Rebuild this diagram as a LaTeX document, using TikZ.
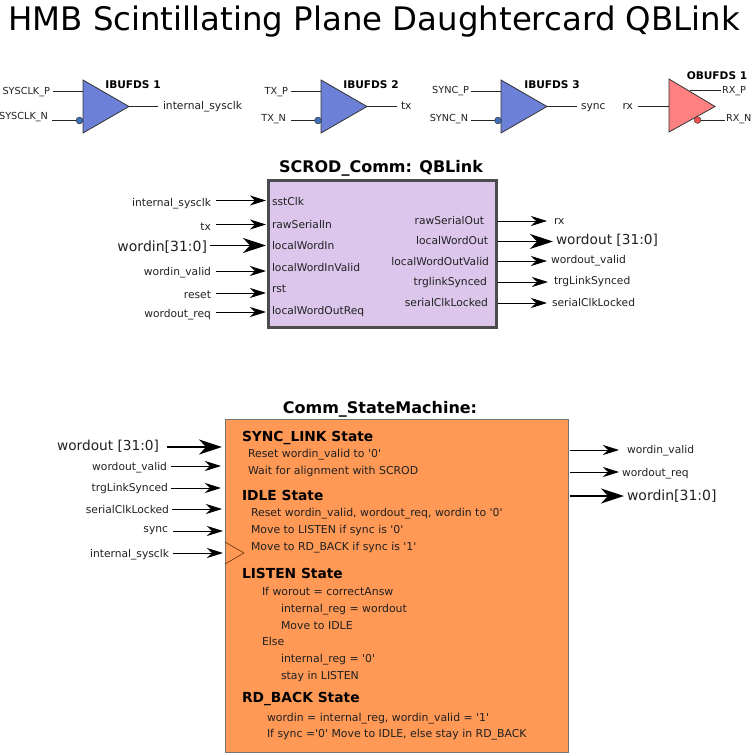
\documentclass[tikz,border=0pt]{standalone}
\usepackage{fontspec}
\defaultfontfeatures[\rmfamily]{}
\setmainfont{DejaVu Sans}
\usetikzlibrary{arrows.meta}
\definecolor{ibuf}{HTML}{6C80D8}
\definecolor{obuf}{HTML}{FF8080}
\definecolor{bubblue}{HTML}{3F70B8}
\definecolor{bubred}{HTML}{F05050}
\definecolor{qbfill}{HTML}{DCC6EC}
\definecolor{smfill}{HTML}{FF9955}
\definecolor{txt}{HTML}{202020}
\tikzset{
  x=1pt,y=-1pt,
  every node/.style={inner sep=0pt,outer sep=0pt,text=txt},
  pin/.style={font=\fontsize{9.7}{11}\selectfont,text height=9pt,text depth=2.5pt},
  sm/.style={font=\fontsize{10.7}{12}\selectfont,text height=10.5pt,text depth=2.5pt},
  body/.style={font=\fontsize{10.9}{12}\selectfont,text height=10.5pt,text depth=2.5pt},
  big/.style={font=\fontsize{14}{16}\selectfont,text height=13pt,text depth=3pt},
  wordbus/.style={font=\fontsize{13.7}{16}\selectfont,text height=13pt,text depth=3pt},
  head/.style={font=\fontsize{16}{18}\selectfont\bfseries,text=black},
  state/.style={font=\fontsize{13.8}{16}\selectfont\bfseries,text=black,text height=13.5pt,text depth=3pt},
  tag/.style={font=\fontsize{10.6}{12}\selectfont\bfseries,text=black},
  gate/.style={draw=black!80,line width=.8pt,line join=miter},
  wire/.style={draw=black!85,line width=.8pt},
  arr/.style={draw=black,line width=.9pt,-{Stealth[length=16pt,width=10pt,inset=5pt]}},
  thickarr/.style={draw=black,line width=1.4pt,-{Stealth[length=23pt,width=15pt,inset=7pt]}},
  rt/.style={anchor=east},
  lf/.style={anchor=west},
}
\begin{document}
\begin{tikzpicture}
\useasboundingbox (0,0) rectangle (751,754);
\node[font=\fontsize{32.4}{36}\selectfont,text=black] (title) at (374,22) {HMB Scintillating Plane Daughtercard QBLink};

% IBUFDS 1
\draw[gate,fill=ibuf] (83,80) -- (129,106.5) -- (83,133) -- cycle;
\node[pin,rt] (s1p) at (50,91) {SYSCLK\_P};
\node[pin,rt] (s1n) at (48,116) {SYSCLK\_N};
\node[sm,lf] (s1o) at (163,106) {internal\_sysclk};
\node[tag] (t1) at (133,85) {IBUFDS 1};
\coordinate (a1) at (53,91); \coordinate (a2) at (83,91);
\coordinate (a3) at (52,120.5); \coordinate (a4) at (79.5,120.5);
\coordinate (a5) at (129,106.5); \coordinate (a6) at (158,106.5);
\draw[wire] (a1)--(a2); \draw[wire] (a3)--(a4); \draw[wire] (a5)--(a6);
\draw[black!80,fill=bubblue,line width=.5pt] (a4) circle (3.4);

% IBUFDS 2
\draw[gate,fill=ibuf] (321,80) -- (367,106.5) -- (321,133) -- cycle;
\node[pin,rt] (s2p) at (288,91) {TX\_P};
\node[pin,rt] (s2n) at (286,118) {TX\_N};
\node[sm,lf] (s2o) at (401,106) {tx};
\node[tag] (t2) at (371,85) {IBUFDS 2};
\coordinate (b1) at (291,91); \coordinate (b2) at (321,91);
\coordinate (b3) at (291,120.5); \coordinate (b4) at (318,120.5);
\coordinate (b5) at (367,106.5); \coordinate (b6) at (397,106.5);
\draw[wire] (b1)--(b2); \draw[wire] (b3)--(b4); \draw[wire] (b5)--(b6);
\draw[black!80,fill=bubblue,line width=.5pt] (b4) circle (3.4);

% IBUFDS 3
\draw[gate,fill=ibuf] (501,80) -- (547,106.5) -- (501,133) -- cycle;
\node[pin,rt] (s3p) at (469,90) {SYNC\_P};
\node[pin,rt] (s3n) at (468,118) {SYNC\_N};
\node[sm,lf] (s3o) at (581,106) {sync};
\node[tag] (t3) at (552,85) {IBUFDS 3};
\coordinate (c1) at (471,91); \coordinate (c2) at (501,91);
\coordinate (c3) at (471,120.5); \coordinate (c4) at (498,120.5);
\coordinate (c5) at (547,106.5); \coordinate (c6) at (577,106.5);
\draw[wire] (c1)--(c2); \draw[wire] (c3)--(c4); \draw[wire] (c5)--(c6);
\draw[black!80,fill=bubblue,line width=.5pt] (c4) circle (3.4);

% OBUFDS 1
\draw[gate,fill=obuf] (669,79) -- (715,106.5) -- (669,132) -- cycle;
\node[sm,rt] (o1i) at (633,106) {rx};
\node[pin,lf] (o1p) at (722,90) {RX\_P};
\node[pin,lf] (o1n) at (726,118) {RX\_N};
\node[tag] (t4) at (717,75.5) {OBUFDS 1};
\coordinate (d1) at (638,106); \coordinate (d2) at (669,106);
\coordinate (d3) at (690,90.5); \coordinate (d4) at (721,90.5);
\coordinate (d5) at (697.5,120); \coordinate (d6) at (725,120);
\draw[wire] (d1)--(d2); \draw[wire] (d3)--(d4); \draw[wire] (d5)--(d6);
\draw[black!80,fill=bubred,line width=.5pt] (d5) circle (3.4);

% SCROD_Comm
\node[draw=black!70,line width=2.2pt,fill=qbfill,minimum width=228pt,minimum height=147pt,anchor=north west] (qb) at (268.5,180.5) {};
\node[head] (qbt) at (381,168) {SCROD\_Comm: QBLink};

\foreach \n/\y/\t in {p1/201/sstClk,p2/224/rawSerialIn,p3/245/localWordIn,p4/267/localWordInValid,p5/288/rst,p6/310/localWordOutReq}
  \node[sm,lf] (\n) at (272,\y) {\t};
\node[sm,rt] (q1) at (484,220) {rawSerialOut};
\node[sm,rt] (q2) at (488,240) {localWordOut};
\node[sm,rt] (q3) at (489,261) {localWordOutValid};
\node[sm,rt] (q4) at (487,281) {trglinkSynced};
\node[sm,rt] (q5) at (488,302) {serialClkLocked};

\foreach \n/\y/\t in {l1/202/internal\_sysclk,l2/226/tx,l4/271/wordin\_valid,l5/294/reset,l6/313/wordout\_req}
  \node[sm,rt] (\n) at (211,\y) {\t};
\node[big,rt] (l3) at (207,246) {wordin[31:0]};

\coordinate (e1) at (216,200.5); \coordinate (f1) at (266,200.5);
\coordinate (e2) at (216,224.5); \coordinate (f2) at (266,224.5);
\coordinate (e3) at (210,245.5); \coordinate (f3) at (266,245.5);
\coordinate (e4) at (216,271); \coordinate (f4) at (266,271);
\coordinate (e5) at (216,293); \coordinate (f5) at (266,293);
\coordinate (e6) at (216,312); \coordinate (f6) at (266,312);
\draw[arr] (e1)--(f1); \draw[arr] (e2)--(f2); \draw[thickarr] (e3)--(f3);
\draw[arr] (e4)--(f4); \draw[arr] (e5)--(f5); \draw[arr] (e6)--(f6);

\coordinate (g1) at (498,221); \coordinate (h1) at (547,221);
\coordinate (g2) at (498,241.5); \coordinate (h2) at (553,241.5);
\coordinate (g3) at (498,261); \coordinate (h3) at (547,261);
\coordinate (g4) at (498,282); \coordinate (h4) at (548,282);
\coordinate (g5) at (498,303); \coordinate (h5) at (547,303);
\draw[arr] (g1)--(h1); \draw[thickarr] (g2)--(h2); \draw[arr] (g3)--(h3);
\draw[arr] (g4)--(h4); \draw[arr] (g5)--(h5);

\node[sm,lf] (r1) at (554,220) {rx};
\node[wordbus,lf] (r2) at (556,239) {wordout [31:0]};
\node[sm,lf] (r3) at (551,259) {wordout\_valid};
\node[sm,lf] (r4) at (554,280) {trgLinkSynced};
\node[sm,lf] (r5) at (552,302) {serialClkLocked};

% Comm_StateMachine
\node[draw=black!55,line width=1pt,fill=smfill,minimum width=343pt,minimum height=333pt,anchor=north west] (sm) at (225,419) {};
\node[head] (smt) at (380,409) {Comm\_StateMachine:};
\draw[draw=black!70!orange,line width=.5pt] (225,542) -- (244,553) -- (225,564);

\node[wordbus,rt] (u1) at (159,445) {wordout [31:0]};
\node[sm,rt] (u2) at (167,466) {wordout\_valid};
\node[sm,rt] (u3) at (168,487) {trgLinkSynced};
\node[sm,rt] (u4) at (169,509) {serialClkLocked};
\node[sm,rt] (u5) at (168,528) {sync};
\node[sm,rt] (u6) at (169,553) {internal\_sysclk};

\coordinate (v1) at (167,447); \coordinate (w1) at (222,447);
\coordinate (v2) at (171,466); \coordinate (w2) at (221,466);
\coordinate (v3) at (171,488); \coordinate (w3) at (221,488);
\coordinate (v4) at (172,509); \coordinate (w4) at (222,509);
\coordinate (v5) at (173,531); \coordinate (w5) at (223,531);
\coordinate (v6) at (173,553); \coordinate (w6) at (223,553);
\draw[thickarr] (v1)--(w1); \draw[arr] (v2)--(w2); \draw[arr] (v3)--(w3);
\draw[arr] (v4)--(w4); \draw[arr] (v5)--(w5); \draw[arr] (v6)--(w6);

\coordinate (x1) at (570,450); \coordinate (y1) at (619,450);
\coordinate (x2) at (570,472); \coordinate (y2) at (619,472);
\coordinate (x3) at (570,496); \coordinate (y3) at (624,496);
\draw[arr] (x1)--(y1); \draw[arr] (x2)--(y2); \draw[thickarr] (x3)--(y3);
\node[sm,lf] (z1) at (627,449) {wordin\_valid};
\node[sm,lf] (z2) at (622,472) {wordout\_req};
\node[big,lf] (z3) at (627,495) {wordin[31:0]};

\node[state,lf] (h1t) at (242,436) {SYNC\_LINK State};
\node[body,lf] (h1a) at (248,453) {Reset wordin\_valid to '0'};
\node[body,lf] (h1b) at (248,470) {Wait for alignment with SCROD};
\node[state,lf] (h2t) at (242,495) {IDLE State};
\node[body,lf] (h2a) at (251,512) {Reset wordin\_valid, wordout\_req, wordin to '0'};
\node[body,lf] (h2b) at (251,529) {Move to LISTEN if sync is '0'};
\node[body,lf] (h2c) at (251,546) {Move to RD\_BACK if sync is '1'};
\node[state,lf] (h3t) at (242,573.5) {LISTEN State};
\node[body,lf] (h3a) at (262,591) {If worout = correctAnsw};
\node[body,lf] (h3b) at (281,608) {internal\_reg = wordout};
\node[body,lf] (h3c) at (281,625) {Move to IDLE};
\node[body,lf] (h3d) at (262,641.5) {Else};
\node[body,lf] (h3e) at (281,658) {internal\_reg = '0'};
\node[body,lf] (h3f) at (281,675) {stay in LISTEN};
\node[state,lf] (h4t) at (242,697) {RD\_BACK State};
\node[body,lf] (h4a) at (267,717) {wordin = internal\_reg, wordin\_valid = '1'};
\node[body,lf] (h4b) at (267,733.5) {If sync ='0' Move to IDLE, else stay in RD\_BACK};
\end{tikzpicture}
\end{document}
